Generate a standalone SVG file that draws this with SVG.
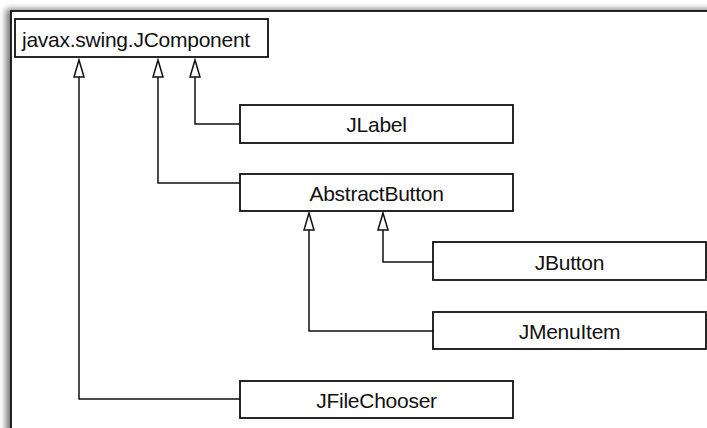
<svg xmlns="http://www.w3.org/2000/svg" width="707" height="428" viewBox="0 0 707 428">
<defs>
<filter id="sh" x="-5%" y="-5%" width="110%" height="110%">
<feGaussianBlur stdDeviation="3"/>
</filter>
</defs>
<style>
.box{fill:#fff;stroke:#111;stroke-width:1.8}
.lbl{font-family:"Liberation Sans",Arial,sans-serif;font-size:21px;letter-spacing:-0.25px;fill:#111;text-anchor:middle}
.con{fill:none;stroke:#111;stroke-width:1.5}
</style>
<rect width="707" height="428" fill="#fff"/>
<rect x="6" y="9" width="720" height="440" fill="#777" filter="url(#sh)"/>
<rect x="11" y="11" width="720" height="440" fill="#fff" stroke="#111" stroke-width="1.8"/>
<g id="connectors">
<path class="con" d="M240,399 H79 V77"/>
<path class="con" d="M240,183 H158 V77"/>
<path class="con" d="M240,124 H195 V77"/>
<path class="con" d="M433,262 H383 V230"/>
<path class="con" d="M433,331 H309 V230"/>
<g fill="#fff" stroke="#111" stroke-width="1.5">
<path d="M79,60 L84,77 L74,77 Z"/>
<path d="M158,60 L163,77 L153,77 Z"/>
<path d="M195,60 L200,77 L190,77 Z"/>
<path d="M383,213 L388,230 L378,230 Z"/>
<path d="M309,213 L314,230 L304,230 Z"/>
</g>
</g>
<g id="JComponent">
<rect class="box" x="15" y="19" width="253" height="38"/>
<text class="lbl" x="22" y="47" style="text-anchor:start">javax.swing.JComponent</text>
</g>
<g id="JLabel">
<rect class="box" x="240" y="105" width="273" height="38"/>
<text class="lbl" x="376.5" y="131.5">JLabel</text>
</g>
<g id="AbstractButton">
<rect class="box" x="240" y="174" width="273" height="37"/>
<text class="lbl" x="376.5" y="200.5">AbstractButton</text>
</g>
<g id="JButton">
<rect class="box" x="433" y="242" width="273" height="38"/>
<text class="lbl" x="569.5" y="269.5">JButton</text>
</g>
<g id="JMenuItem">
<rect class="box" x="433" y="312" width="273" height="37"/>
<text class="lbl" x="569.5" y="338.5">JMenuItem</text>
</g>
<g id="JFileChooser">
<rect class="box" x="240" y="381" width="273" height="37"/>
<text class="lbl" x="376.5" y="407.5">JFileChooser</text>
</g>
</svg>
